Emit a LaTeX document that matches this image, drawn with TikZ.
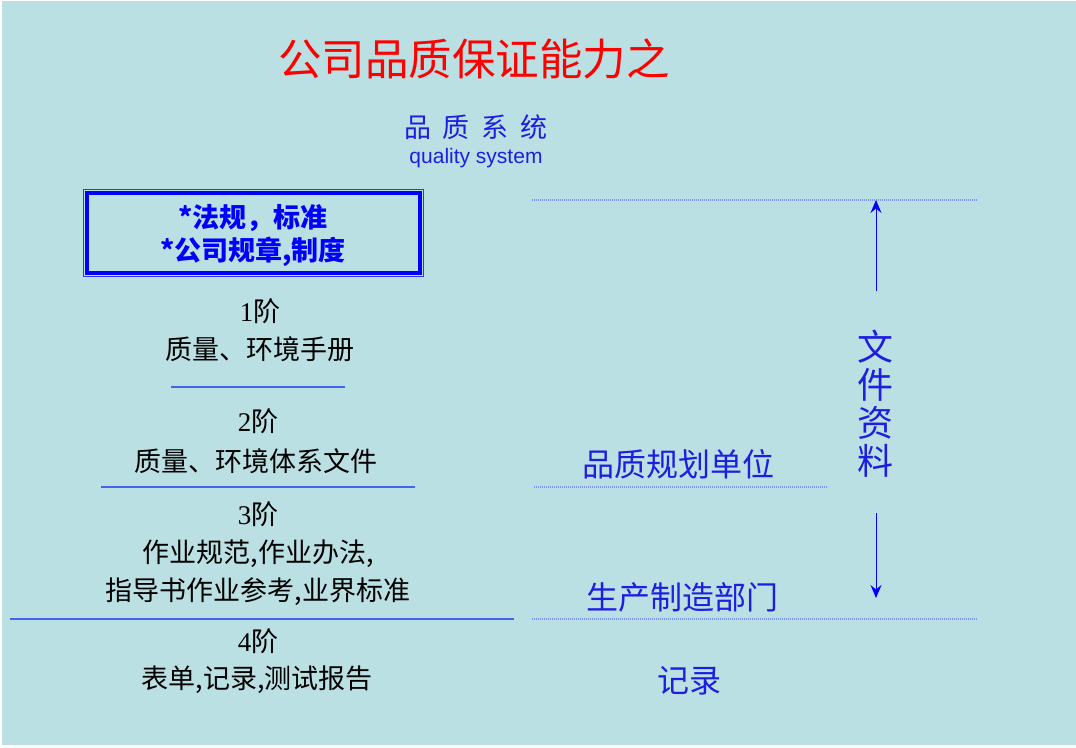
\documentclass[tikz,border=0pt]{standalone}
\usepackage{fontspec}
\setmainfont{Liberation Serif}
\setsansfont{Liberation Sans}
\newfontfamily\cjk{Noto Sans CJK SC}
\usetikzlibrary{positioning,arrows.meta}
\definecolor{bgcyan}{RGB}{187,224,227}
\definecolor{lineblue}{RGB}{70,100,235}
\definecolor{dotblue}{RGB}{120,150,232}
\definecolor{textblue}{RGB}{30,30,225}

\begin{document}
\begin{tikzpicture}[x=1pt,y=-1pt,
	cjktxt/.style={inner sep=0pt, font=\cjk\fontsize{#1}{#1}\selectfont},
	lvtxt/.style={cjktxt=27, text=black},
	rtxt/.style={cjktxt=32, text=textblue},
	boxtxt/.style={inner sep=0pt, text=blue, font=\cjk\bfseries\fontsize{27}{27}\selectfont},
	sep/.style={draw=lineblue, line width=1.5pt},
	dotsep/.style={draw=dotblue, line width=1.2pt, dash pattern=on 1pt off 1pt},
	docarrow/.style={draw=blue, line width=0.9pt, -{Stealth[length=13pt,width=11pt,inset=4.5pt]}}
	]
	% background
	\fill[white] (0,0) rectangle (1076,747);
	\fill[bgcyan] (2,1) rectangle (1076,745);
	\useasboundingbox (0,0) rectangle (1076,747);

	% heading
	\node[cjktxt=43.5, text=red] (title) at (474,59) {公司品质保证能力之};
	\node[cjktxt=27, text=textblue] (sys) at (476,127) {品\hspace{12pt}质\hspace{12pt}系\hspace{12pt}统};
	\node[inner sep=0pt, text=textblue, font=\sffamily\fontsize{21}{21}\selectfont] (sysen) at (476,158) {quality system};

	% rules box
	\draw[blue!80, line width=1pt] (83.5,189.5) rectangle (423.5,276.5);
	\draw[blue, line width=4pt] (87,193) rectangle (420,273);
	\node[boxtxt] (rule1) at (253,218) {*法规，标准};
	\node[boxtxt] (rule2) at (253,252) {*公司规章,制度};

	% levels
	\node[lvtxt] (lv1) at (260,311) {{\rmfamily 1}阶};
	\node[lvtxt] (lv1txt) at (260,349) {质量、环境手册};
	\node[lvtxt] (lv2) at (258,421) {{\rmfamily 2}阶};
	\node[lvtxt] (lv2txt) at (256,461) {质量、环境体系文件};
	\node[lvtxt] (lv3) at (258,514) {{\rmfamily 3}阶};
	\node[lvtxt] (lv3txt) at (258,554) {作业规范,作业办法,};
	\node[lvtxt] (lv3txtb) at (258,592) {指导书作业参考,业界标准};
	\node[lvtxt] (lv4) at (258,641) {{\rmfamily 4}阶};
	\node[lvtxt] (lv4txt) at (257,680) {表单,记录,测试报告};

	\coordinate (s1l) at (171,387);
	\coordinate (s1r) at (345,387);
	\coordinate (s2l) at (101,487);
	\coordinate (s2r) at (415,487);
	\coordinate (s3l) at (10,619);
	\coordinate (s3r) at (514,619);
	\draw[sep] (s1l) -- (s1r);
	\draw[sep] (s2l) -- (s2r);
	\draw[sep] (s3l) -- (s3r);

	% right side
	\coordinate (d1l) at (532,200);
	\coordinate (d1r) at (977,200);
	\coordinate (d2l) at (534,487);
	\coordinate (d2r) at (827,487);
	\coordinate (d3l) at (532,619);
	\coordinate (d3r) at (977,619);
	\draw[dotsep] (d1l) -- (d1r);
	\draw[dotsep] (d2l) -- (d2r);
	\draw[dotsep] (d3l) -- (d3r);

	\node[rtxt] (plan) at (678,464) {品质规划单位};
	\node[rtxt] (prod) at (682,597) {生产制造部门};
	\node[rtxt] (rec) at (689,681) {记录};

	\node[inner sep=0pt, text=textblue, align=center, font=\cjk\fontsize{36}{38}\selectfont] (docs) at (875,404) {文\\件\\资\\料};
	\coordinate (upbot) at (876,291);
	\coordinate (uptop) at (876,200);
	\coordinate (dntop) at (876,513);
	\coordinate (dnbot) at (876,598);
	\draw[docarrow] (upbot) -- (uptop);
	\draw[docarrow] (dntop) -- (dnbot);
\end{tikzpicture}
\end{document}
